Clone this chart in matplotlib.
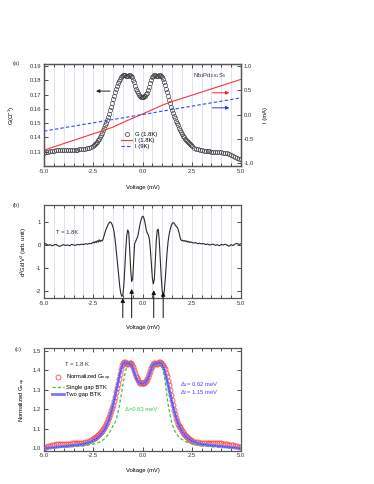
import numpy as np
import matplotlib
matplotlib.use("Agg")
import matplotlib.pyplot as plt
from matplotlib.ticker import MultipleLocator, FormatStrFormatter
from matplotlib.lines import Line2D

plt.rcParams['font.family'] = ['Liberation Sans', 'DejaVu Sans']
plt.rcParams['axes.unicode_minus'] = False
plt.rcParams['mathtext.fontset'] = 'custom'
plt.rcParams['mathtext.rm'] = 'Liberation Sans'
plt.rcParams['mathtext.it'] = 'Liberation Sans'

# voltage grids (mV): 0.1 step in the tails, 0.05 step in the middle
v_fine = np.round(np.concatenate([np.arange(-5.0, -2.5, 0.1), np.arange(-2.5, 2.5001, 0.05),
                                   np.arange(2.6, 5.0001, 0.1)]), 3)
v_coarse = np.round(np.arange(-5.0, 5.0001, 0.1), 2)

# (a) differential conductance G (1/Ohm) at 1.8 K
g_left_tail = [0.1292, 0.1296, 0.1300, 0.1303, 0.1306, 0.1308, 0.1310, 0.1311, 0.1312, 0.1313,
               0.1314, 0.1314, 0.1315, 0.1315, 0.1315, 0.1315, 0.1315, 0.1315, 0.1316, 0.1317,
               0.1318, 0.1320, 0.1323, 0.1327, 0.1333]
g_mid = [0.1341, 0.1347, 0.1354, 0.1362, 0.1371, 0.1381, 0.1392, 0.1405, 0.1419, 0.1434, 0.1450,
         0.1467, 0.1485, 0.1503, 0.1522, 0.1543, 0.1566, 0.1590, 0.1615, 0.1641, 0.1668,
         0.1694, 0.1718, 0.1741, 0.1762, 0.1781, 0.1798, 0.1812, 0.1824, 0.1833, 0.1838,
         0.1840, 0.1838, 0.1834, 0.1831, 0.1832, 0.1835, 0.1836, 0.1832, 0.1822, 0.1806,
         0.1786, 0.1764, 0.1743, 0.1724, 0.1709, 0.1698, 0.1691, 0.1687, 0.1685, 0.1684,
         0.1685, 0.1688, 0.1693, 0.1702, 0.1715, 0.1733, 0.1755, 0.1779, 0.1802, 0.1821,
         0.1833, 0.1837, 0.1835, 0.1831, 0.1830, 0.1833, 0.1836, 0.1837, 0.1834, 0.1826,
         0.1811, 0.1790, 0.1766, 0.1742, 0.1718, 0.1692, 0.1665, 0.1639, 0.1614, 0.1590,
         0.1570, 0.1551, 0.1533, 0.1516, 0.1500, 0.1484, 0.1469, 0.1455, 0.1437, 0.1425,
         0.1413, 0.1402, 0.1392, 0.1383, 0.1374, 0.1366, 0.1358, 0.1351, 0.1344, 0.1338]
g_right_tail = [0.1329, 0.1322, 0.1317, 0.1313, 0.1310, 0.1307, 0.1305, 0.1303, 0.1302, 0.1301,
                0.1300, 0.1299, 0.1298, 0.1297, 0.1296, 0.1294, 0.1291, 0.1288, 0.1284, 0.1279,
                0.1273, 0.1266, 0.1259, 0.1252, 0.1246]
g_18K = np.array(g_left_tail + g_mid + g_right_tail)
g_ticks = [0.13, 0.14, 0.15, 0.16, 0.17, 0.18, 0.19]

# (a) I-V curves (mA)
v_iv = [-5.0, -4.5, -4.0, -3.5, -3.0, -2.5, -2.0, -1.5, -1.0, -0.5, 0.0,
        0.5, 1.0, 1.5, 2.0, 2.5, 3.0, 3.5, 4.0, 4.5, 5.0]
i_18K = [-0.73, -0.663, -0.596, -0.529, -0.462, -0.395, -0.33, -0.258, -0.165, -0.075, 0.01,
         0.10, 0.19, 0.267, 0.33, 0.395, 0.46, 0.525, 0.59, 0.655, 0.72]
i_9K = [-0.34, -0.306, -0.272, -0.238, -0.204, -0.17, -0.136, -0.102, -0.068, -0.034, 0.0,
        0.034, 0.068, 0.102, 0.137, 0.171, 0.205, 0.239, 0.273, 0.308, 0.342]

# (b) d2G/dV2 (arb. unit)
d2_left_tail = [0.03, 0.05, -0.02, 0.01, -0.04, -0.01, 0.02, -0.03, -0.07, -0.02,
                0.01, -0.03, 0.00, -0.04, 0.02, 0.00, -0.02, 0.02, 0.00, 0.03,
                0.01, 0.05, 0.03, 0.06, 0.05]
d2_mid = [0.12, 0.08, 0.15, 0.10, 0.18, 0.12, 0.22, 0.14, 0.20, 0.17, 0.25,
          0.40, 0.55, 0.68, 0.78, 0.88, 0.95, 1.00, 0.98, 0.90, 0.78,
          0.60, 0.30, -0.10, -0.55, -1.00, -1.45, -1.85, -2.12, -2.25, -2.20,
          -1.80, -1.05, -0.20, 0.40, 0.65, 0.55, -0.20, -1.10, -1.60, -1.50,
          -0.70, 0.05, 0.15, 0.25, 0.35, 0.55, 0.80, 1.00, 1.15, 1.25,
          1.22, 1.08, 0.85, 0.62, 0.50, 0.42, 0.25, -0.20, -0.85, -1.45,
          -1.70, -1.50, -0.70, 0.20, 0.65, 0.68, 0.20, -0.60, -1.40, -2.00,
          -2.22, -2.05, -1.55, -0.90, -0.30, 0.15, 0.45, 0.65, 0.82, 0.92,
          0.97, 0.95, 0.88, 0.82, 0.78, 0.70, 0.55, 0.35, 0.22, 0.18,
          0.20, 0.16, 0.19, 0.14, 0.17, 0.12, 0.15, 0.10, 0.13, 0.11]
d2_right_tail = [0.08, 0.10, 0.05, 0.07, 0.04, 0.06, 0.01, 0.04, -0.01, 0.02,
                 0.03, -0.02, 0.01, -0.04, 0.02, -0.01, 0.03, -0.02, -0.06, 0.01,
                 -0.03, 0.04, 0.06, 0.02, 0.05]
d2g = np.array(d2_left_tail + d2_mid + d2_right_tail)
gap_marks = [-1.0, -0.55, 0.57, 1.05]
gap_tips = [-2.2, -1.8, -1.86, -1.93]

# (c) normalized conductance and BTK fits
gn_left_tail = [1.004, 1.008, 1.011, 1.014, 1.016, 1.018, 1.020, 1.021, 1.022, 1.023,
                1.023, 1.024, 1.024, 1.024, 1.025, 1.025, 1.025, 1.026, 1.026, 1.027,
                1.028, 1.030, 1.033, 1.037, 1.042]
gn_mid = [1.048, 1.051, 1.054, 1.058, 1.062, 1.067, 1.072, 1.078, 1.084, 1.091, 1.098,
          1.106, 1.115, 1.125, 1.136, 1.148, 1.161, 1.175, 1.190, 1.206, 1.223,
          1.243, 1.264, 1.286, 1.308, 1.330, 1.355, 1.380, 1.405, 1.424, 1.436,
          1.441, 1.442, 1.438, 1.434, 1.433, 1.436, 1.438, 1.436, 1.428, 1.416,
          1.401, 1.385, 1.371, 1.358, 1.348, 1.341, 1.336, 1.333, 1.332, 1.332,
          1.333, 1.335, 1.339, 1.345, 1.354, 1.366, 1.380, 1.395, 1.410, 1.423,
          1.432, 1.437, 1.437, 1.434, 1.433, 1.436, 1.440, 1.441, 1.439, 1.432,
          1.424, 1.414, 1.405, 1.388, 1.368, 1.347, 1.322, 1.297, 1.271, 1.245,
          1.220, 1.196, 1.174, 1.155, 1.139, 1.126, 1.116, 1.107, 1.099, 1.091,
          1.083, 1.076, 1.069, 1.063, 1.057, 1.052, 1.048, 1.044, 1.041, 1.038]
gn_right_tail = [1.035, 1.032, 1.030, 1.029, 1.028, 1.027, 1.027, 1.026, 1.026, 1.026,
                 1.026, 1.026, 1.026, 1.025, 1.025, 1.024, 1.023, 1.021, 1.019, 1.017,
                 1.015, 1.013, 1.011, 1.009, 1.007]
g_norm = np.array(gn_left_tail + gn_mid + gn_right_tail)

btk_two_gap = [1.000, 1.001, 1.002, 1.003, 1.004, 1.005, 1.006, 1.007, 1.008, 1.009,
               1.010, 1.011, 1.012, 1.013, 1.014, 1.015, 1.016, 1.018, 1.019, 1.021,
               1.023, 1.025, 1.028, 1.031, 1.035, 1.040, 1.046, 1.053, 1.062, 1.073,
               1.086, 1.102, 1.122, 1.148, 1.180, 1.218, 1.262, 1.310, 1.358, 1.400,
               1.430, 1.440, 1.434, 1.434, 1.434, 1.414, 1.382, 1.355, 1.339, 1.332,
               1.330, 1.333, 1.343, 1.364, 1.393, 1.421, 1.435, 1.433, 1.435, 1.440,
               1.430, 1.405, 1.368, 1.325, 1.280, 1.236, 1.196, 1.160, 1.131, 1.107,
               1.088, 1.073, 1.061, 1.052, 1.045, 1.039, 1.034, 1.030, 1.027, 1.024,
               1.022, 1.020, 1.019, 1.017, 1.016, 1.015, 1.014, 1.013, 1.012, 1.011,
               1.010, 1.009, 1.008, 1.007, 1.006, 1.005, 1.004, 1.003, 1.002, 1.001, 1.000]
btk_one_gap = [1.000, 1.001, 1.001, 1.002, 1.002, 1.003, 1.003, 1.004, 1.004, 1.005,
               1.005, 1.006, 1.006, 1.007, 1.008, 1.008, 1.009, 1.010, 1.011, 1.012,
               1.013, 1.015, 1.016, 1.018, 1.020, 1.022, 1.025, 1.028, 1.032, 1.037,
               1.043, 1.052, 1.063, 1.077, 1.095, 1.115, 1.130, 1.160, 1.205, 1.262,
               1.322, 1.378, 1.418, 1.432, 1.425, 1.410, 1.385, 1.360, 1.343, 1.334,
               1.331, 1.334, 1.343, 1.360, 1.385, 1.410, 1.425, 1.432, 1.432, 1.428,
               1.415, 1.375, 1.300, 1.225, 1.170, 1.128, 1.098, 1.078, 1.064, 1.054,
               1.046, 1.040, 1.034, 1.030, 1.026, 1.023, 1.020, 1.018, 1.016, 1.014,
               1.013, 1.012, 1.011, 1.010, 1.009, 1.008, 1.007, 1.006, 1.006, 1.005,
               1.004, 1.004, 1.003, 1.003, 1.002, 1.002, 1.001, 1.001, 1.001, 1.000, 1.000]

W, H = 374, 484
fig = plt.figure(figsize=(W / 100, H / 100), dpi=100)
fs = 4.2
spine_col = '#555555'
grid_col = '#d4d4f2'


def frame(x0, y0, x1, y1):
    return [x0 / W, 1 - y1 / H, (x1 - x0) / W, (y1 - y0) / H]


def style(ax, grid=True, right_ticks=True):
    ax.set_xlim(-5, 5)
    ax.xaxis.set_major_locator(MultipleLocator(2.5))
    ax.xaxis.set_minor_locator(MultipleLocator(0.5))
    ax.xaxis.set_major_formatter(FormatStrFormatter('%.1f'))
    ax.tick_params(which='both', direction='in', top=True, right=right_ticks,
                   labelsize=fs, colors='#333333', width=0.6, pad=2)
    ax.tick_params(which='major', length=3)
    ax.tick_params(which='minor', length=2)
    for s in ax.spines.values():
        s.set_color(spine_col)
        s.set_linewidth(0.9)
    if grid:
        for v in np.arange(-4.5, 5.0, 0.5):
            ax.axvline(v, color=grid_col, lw=0.5, zorder=0)
    ax.set_xlabel('Voltage (mV)', fontsize=fs)


# ---------- (a)
ax1 = fig.add_axes(frame(44, 64, 241, 166))
style(ax1, right_ticks=False)
ax1.plot(v_fine, g_18K, 'o', mfc='none', mec='#3a3a3a', ms=3.0, mew=0.45, zorder=3)
ax1.set_ylim(0.1200, 0.1915)
ax1.set_yticks(g_ticks)
ax1.yaxis.set_major_formatter(FormatStrFormatter('%.2f'))
ax1.set_ylabel('G(Ω$^{-1}$)', fontsize=fs)
ax1.yaxis.set_label_coords(-0.137, 0.5)
ax1.xaxis.set_label_coords(0.5, -0.19)

ax1r = ax1.twinx()
ax1r.plot(v_iv, i_18K, color='#ff3333', lw=0.8, zorder=2)
ax1r.plot(v_iv, i_9K, color='#3344ff', lw=0.8, ls=(0, (3, 2)), zorder=2)
ax1r.set_ylim(-1.055, 1.035)
ax1r.yaxis.set_major_locator(MultipleLocator(0.5))
ax1r.yaxis.set_major_formatter(FormatStrFormatter('%.1f'))
ax1r.tick_params(direction='in', labelsize=fs, colors='#333333', width=0.6, length=3, pad=2)
for s in ax1r.spines.values():
    s.set_color(spine_col)
    s.set_linewidth(0.9)
ax1r.set_ylabel('I (mA)', fontsize=fs)
ax1r.yaxis.set_label_coords(1.112, 0.5)

ax1.annotate('', xy=(-2.5, 0.1725), xytext=(-1.5, 0.1725),
             arrowprops=dict(arrowstyle='-|>', color='#222222', lw=0.7, mutation_scale=5))
ax1r.annotate('', xy=(4.55, 0.445), xytext=(3.4, 0.445),
              arrowprops=dict(arrowstyle='-|>', color='#ff2222', lw=0.7, mutation_scale=5))
ax1r.annotate('', xy=(4.55, 0.137), xytext=(3.4, 0.137),
              arrowprops=dict(arrowstyle='-|>', color='#2233ff', lw=0.7, mutation_scale=5))
ax1.text(0.755, 0.89, 'Nb$_3$Pd$_{0.81}$S$_5$', transform=ax1.transAxes,
         fontsize=fs, va='center', ha='left', color='#333333')
handles = [Line2D([], [], ls='none', marker='o', mfc='none', mec='#3a3a3a', ms=3.0, mew=0.5),
           Line2D([], [], color='#ff3333', lw=0.8),
           Line2D([], [], color='#3344ff', lw=0.8, ls=(0, (3, 2)))]
ax1.legend(handles, ['G (1.8K)', 'I (1.8K)', 'I (9K)'], loc='upper left',
           bbox_to_anchor=(0.39, 0.33), frameon=False, fontsize=fs, handlelength=2.0,
           handletextpad=0.5, labelspacing=0.15, borderpad=0, borderaxespad=0)

# ---------- (b)
ax2 = fig.add_axes(frame(44, 205, 241, 298))
style(ax2)
ax2.plot(v_fine, d2g, color='#2a2a2a', lw=0.8, zorder=3)
ax2.set_ylim(-2.32, 1.74)
ax2.yaxis.set_major_locator(MultipleLocator(1))
ax2.yaxis.set_major_formatter(FormatStrFormatter('%d'))
ax2.set_ylabel('d$^2$G/dV$^2$ (arb. unit)', fontsize=fs)
ax2.yaxis.set_label_coords(-0.076, 0.5)
ax2.xaxis.set_label_coords(0.5, -0.29)
ax2.text(-4.4, 0.52, 'T = 1.8K', fontsize=fs, va='center', ha='left', color='#333333')
for xv, tip in zip(gap_marks, gap_tips):
    ax2.annotate('', xy=(xv, tip), xytext=(xv, -3.3), annotation_clip=False,
                 arrowprops=dict(arrowstyle='-|>', color='#111111', lw=0.7, mutation_scale=6))

# ---------- (c)
ax3 = fig.add_axes(frame(44, 348.3, 241, 450.7))
style(ax3, grid=False)
ax3.plot(v_fine, g_norm, 'o', mfc='none', mec='#ff4a4a', ms=3.6, mew=0.6, zorder=2,
         label='Normalized G$_{exp}$')
ax3.plot(v_coarse, btk_one_gap, color='#33cc33', lw=0.9, ls=(0, (2.5, 1.8)), zorder=3,
         label='Single gap BTK')
ax3.plot(v_coarse, btk_two_gap, color='#7777ff', lw=2.0, zorder=4, label='Two gap BTK')
ax3.plot(v_coarse, btk_two_gap, color='#1a1acc', lw=0.5, ls=(0, (1.5, 2)), zorder=5)
ax3.set_ylim(0.988, 1.512)
ax3.yaxis.set_major_locator(MultipleLocator(0.1))
ax3.yaxis.set_major_formatter(FormatStrFormatter('%.1f'))
ax3.set_ylabel('Normalized G$_{exp}$', fontsize=fs)
ax3.yaxis.set_label_coords(-0.081, 0.5)
ax3.xaxis.set_label_coords(0.5, -0.17)
ax3.text(0.107, 0.837, 'T = 1.8 K', transform=ax3.transAxes, fontsize=fs, va='center',
         ha='left', color='#333333')
ax3.legend(loc='upper left', bbox_to_anchor=(0.04, 0.76), frameon=False, fontsize=fs,
           handlelength=2.0, handletextpad=0.5, labelspacing=0.3, borderpad=0,
           borderaxespad=0, numpoints=1)
ax3.text(-0.09, 1.2, 'Δ=0.63 meV', fontsize=fs, ha='center', va='center', color='#44cc44')
ax3.text(1.9, 1.325, 'Δ$_1$= 0.62 meV', fontsize=fs, ha='left', va='center', color='#4444ff')
ax3.text(1.9, 1.285, 'Δ$_2$= 1.15 meV', fontsize=fs, ha='left', va='center', color='#4444ff')

fig.text(13 / W, 1 - 63 / H, '(a)', fontsize=fs, va='center', color='#333333')
fig.text(13 / W, 1 - 205 / H, '(b)', fontsize=fs, va='center', color='#333333')
fig.text(15 / W, 1 - 349 / H, '(c)', fontsize=fs, va='center', color='#333333')

fig.savefig('out.png', dpi=100)
